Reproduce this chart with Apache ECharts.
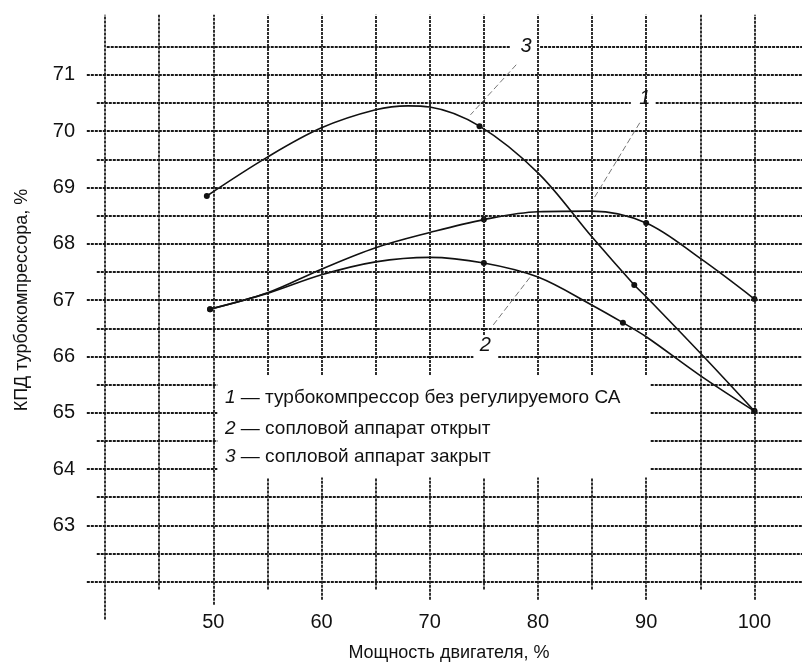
<!DOCTYPE html>
<html>
<head>
<meta charset="utf-8">
<script src="https://cdn.jsdelivr.net/npm/echarts@6/dist/echarts.min.js"></script>
<style>
html, body { margin: 0; padding: 0; background: #fff; }
#chart { width: 805px; height: 665px; }
</style>
</head>
<body>
<div id="chart"></div>
<script>
// 1 - турбокомпрессор без регулируемого СА
var power1 = [49.7, 55, 60, 65, 70, 75, 80, 85, 90, 95, 100];
var eff1 = [66.84, 67.13, 67.55, 67.93, 68.2, 68.43, 68.57, 68.58, 68.37, 67.74, 67.02];
var marks1 = [0, 5, 8, 10];
// 2 - сопловой аппарат открыт
var power2 = [49.7, 55, 60, 65, 70, 75, 80, 85, 87.85, 90, 95, 100];
var eff2 = [66.84, 67.12, 67.45, 67.68, 67.76, 67.66, 67.41, 66.91, 66.6, 66.35, 65.66, 65.03];
var marks2 = [0, 5, 8, 11];
// 3 - сопловой аппарат закрыт
var power3 = [49.4, 55, 60, 65, 68, 70, 74.6, 80, 85, 88.9, 90, 95, 100];
var eff3 = [68.85, 69.54, 70.06, 70.38, 70.45, 70.43, 70.09, 69.26, 68.12, 67.27, 67.06, 66.06, 65.03];
var marks3 = [0, 6, 9, 12];

var xTicks = [50, 60, 70, 80, 90, 100];
var yTicks = [63, 64, 65, 66, 67, 68, 69, 70, 71];
var curveNames = ['турбокомпрессор без регулируемого СА', 'сопловой аппарат открыт', 'сопловой аппарат закрыт'];

var FONT = '"Liberation Sans", Arial, sans-serif';
var XMAX = 104.4;

function points(xs, ys, marks) {
    return xs.map(function (x, i) {
        return { value: [x, ys[i]], symbol: marks.indexOf(i) >= 0 ? 'circle' : 'none' };
    });
}

function seg(x1, y1, x2, y2) {
    return [{ coord: [x1, y1] }, { coord: [x2, y2] }];
}

// сетка: горизонтальные линии через 0.5, целые начинаются левее
var gridLines = [];
var lineTop = 72.07;
for (var v = 62; v <= 71.5; v += 0.5) {
    var x0 = (v % 1 === 0) ? 38.31 : 39.23;
    if (v === 71.5) {
        gridLines.push(seg(40.15, v, 77.44, v), seg(80.2, v, XMAX, v));
    } else if (v === 70.5) {
        gridLines.push(seg(x0, v, 88.58, v), seg(90.88, v, XMAX, v));
    } else if (v === 66) {
        gridLines.push(seg(x0, v, 74.03, v), seg(76.33, v, XMAX, v));
    } else if (v >= 64 && v <= 65.5) {
        gridLines.push(seg(x0, v, 50.37, v), seg(90.42, v, XMAX, v));
    } else {
        gridLines.push(seg(x0, v, XMAX, v));
    }
}
// вертикальные линии через 5
for (var p = 40; p <= 100; p += 5) {
    var lineBottom = (p % 10 === 0) ? 61.68 : 61.86;
    if (p === 40) lineBottom = 61.33;
    if (p === 50) lineBottom = 61.59;
    if (p >= 55 && p <= 90) {
        var gapTop = (p === 75) ? 66.38 : 65.67;
        gridLines.push(seg(p, lineBottom, p, 63.85), seg(p, gapTop, p, lineTop));
    } else {
        gridLines.push(seg(p, lineBottom, p, lineTop));
    }
}

function curve(name, xs, ys, marks, tag, tagAt, leader) {
    return {
        name: name,
        type: 'line',
        smooth: 0.35,
        z: 3,
        symbolSize: 6,
        itemStyle: { color: '#111' },
        lineStyle: { color: '#111', width: 1.6 },
        data: points(xs, ys, marks),
        markPoint: {
            symbol: 'circle',
            symbolSize: 1,
            itemStyle: { color: 'rgba(0,0,0,0)' },
            label: {
                show: true, position: 'inside', formatter: tag,
                fontStyle: 'italic', fontSize: 20, fontFamily: FONT, color: '#111'
            },
            data: [{ coord: tagAt }]
        },
        markLine: {
            silent: true,
            symbol: ['none', 'none'],
            label: { show: false },
            lineStyle: { color: '#777', width: 1, type: [6, 3] },
            data: [seg(leader[0], leader[1], leader[2], leader[3])]
        }
    };
}

var chart = echarts.init(document.getElementById('chart'));
var option = {
    animation: false,
    backgroundColor: '#fff',
    grid: { left: 51, right: 0, top: 0, bottom: 27 },
    xAxis: {
        type: 'value', min: 35, max: XMAX, interval: 5, offset: -33,
        axisLine: { show: false }, axisTick: { show: false }, splitLine: { show: false },
        axisLabel: {
            margin: 7, fontSize: 20, fontFamily: FONT, color: '#111',
            formatter: function (v) { return xTicks.indexOf(v) >= 0 ? String(v) : ''; }
        }
    },
    yAxis: {
        type: 'value', min: 61, max: 72.33, interval: 1, offset: -31,
        axisLine: { show: false }, axisTick: { show: false }, splitLine: { show: false },
        axisLabel: {
            margin: 7, fontSize: 20, fontFamily: FONT, color: '#111',
            formatter: function (v) { return yTicks.indexOf(v) >= 0 ? String(v) : ''; }
        }
    },
    graphic: [
        {
            type: 'text', x: 22, y: 300, rotation: Math.PI / 2,
            style: { text: 'КПД турбокомпрессора, %', fontSize: 18, fontFamily: FONT, fill: '#111', align: 'center', verticalAlign: 'middle' }
        },
        {
            type: 'text', x: 449, y: 653,
            style: { text: 'Мощность двигателя, %', fontSize: 18, fontFamily: FONT, fill: '#111', align: 'center', verticalAlign: 'middle' }
        },
        {
            type: 'text', x: 225, y: 398,
            style: { text: '{n|1} — ' + curveNames[0], fontSize: 19, fontFamily: FONT, fill: '#111', verticalAlign: 'middle',
                rich: { n: { fontStyle: 'italic', fontSize: 19, fontFamily: FONT } } }
        },
        {
            type: 'text', x: 225, y: 429,
            style: { text: '{n|2} — ' + curveNames[1], fontSize: 19, fontFamily: FONT, fill: '#111', verticalAlign: 'middle',
                rich: { n: { fontStyle: 'italic', fontSize: 19, fontFamily: FONT } } }
        },
        {
            type: 'text', x: 225, y: 457,
            style: { text: '{n|3} — ' + curveNames[2], fontSize: 19, fontFamily: FONT, fill: '#111', verticalAlign: 'middle',
                rich: { n: { fontStyle: 'italic', fontSize: 19, fontFamily: FONT } } }
        }
    ],
    series: [
        {
            name: 'grid',
            type: 'line',
            data: [],
            silent: true,
            z: 1,
            markLine: {
                silent: true,
                symbol: ['none', 'none'],
                label: { show: false },
                lineStyle: { color: '#1a1a1a', width: 1.8, type: [3, 1] },
                data: gridLines
            }
        },
        curve(curveNames[0], power1, eff1, marks1, '1', [89.87, 70.59], [89.41, 70.15, 85.08, 68.78]),
        curve(curveNames[1], power2, eff2, marks2, '2', [75.14, 66.19], [75.87, 66.56, 79.28, 67.41]),
        curve(curveNames[2], power3, eff3, marks3, '3', [78.91, 71.5], [77.99, 71.18, 73.76, 70.29])
    ]
};
chart.setOption(option);
window.addEventListener('resize', function () { chart.resize(); });
</script>
</body>
</html>
